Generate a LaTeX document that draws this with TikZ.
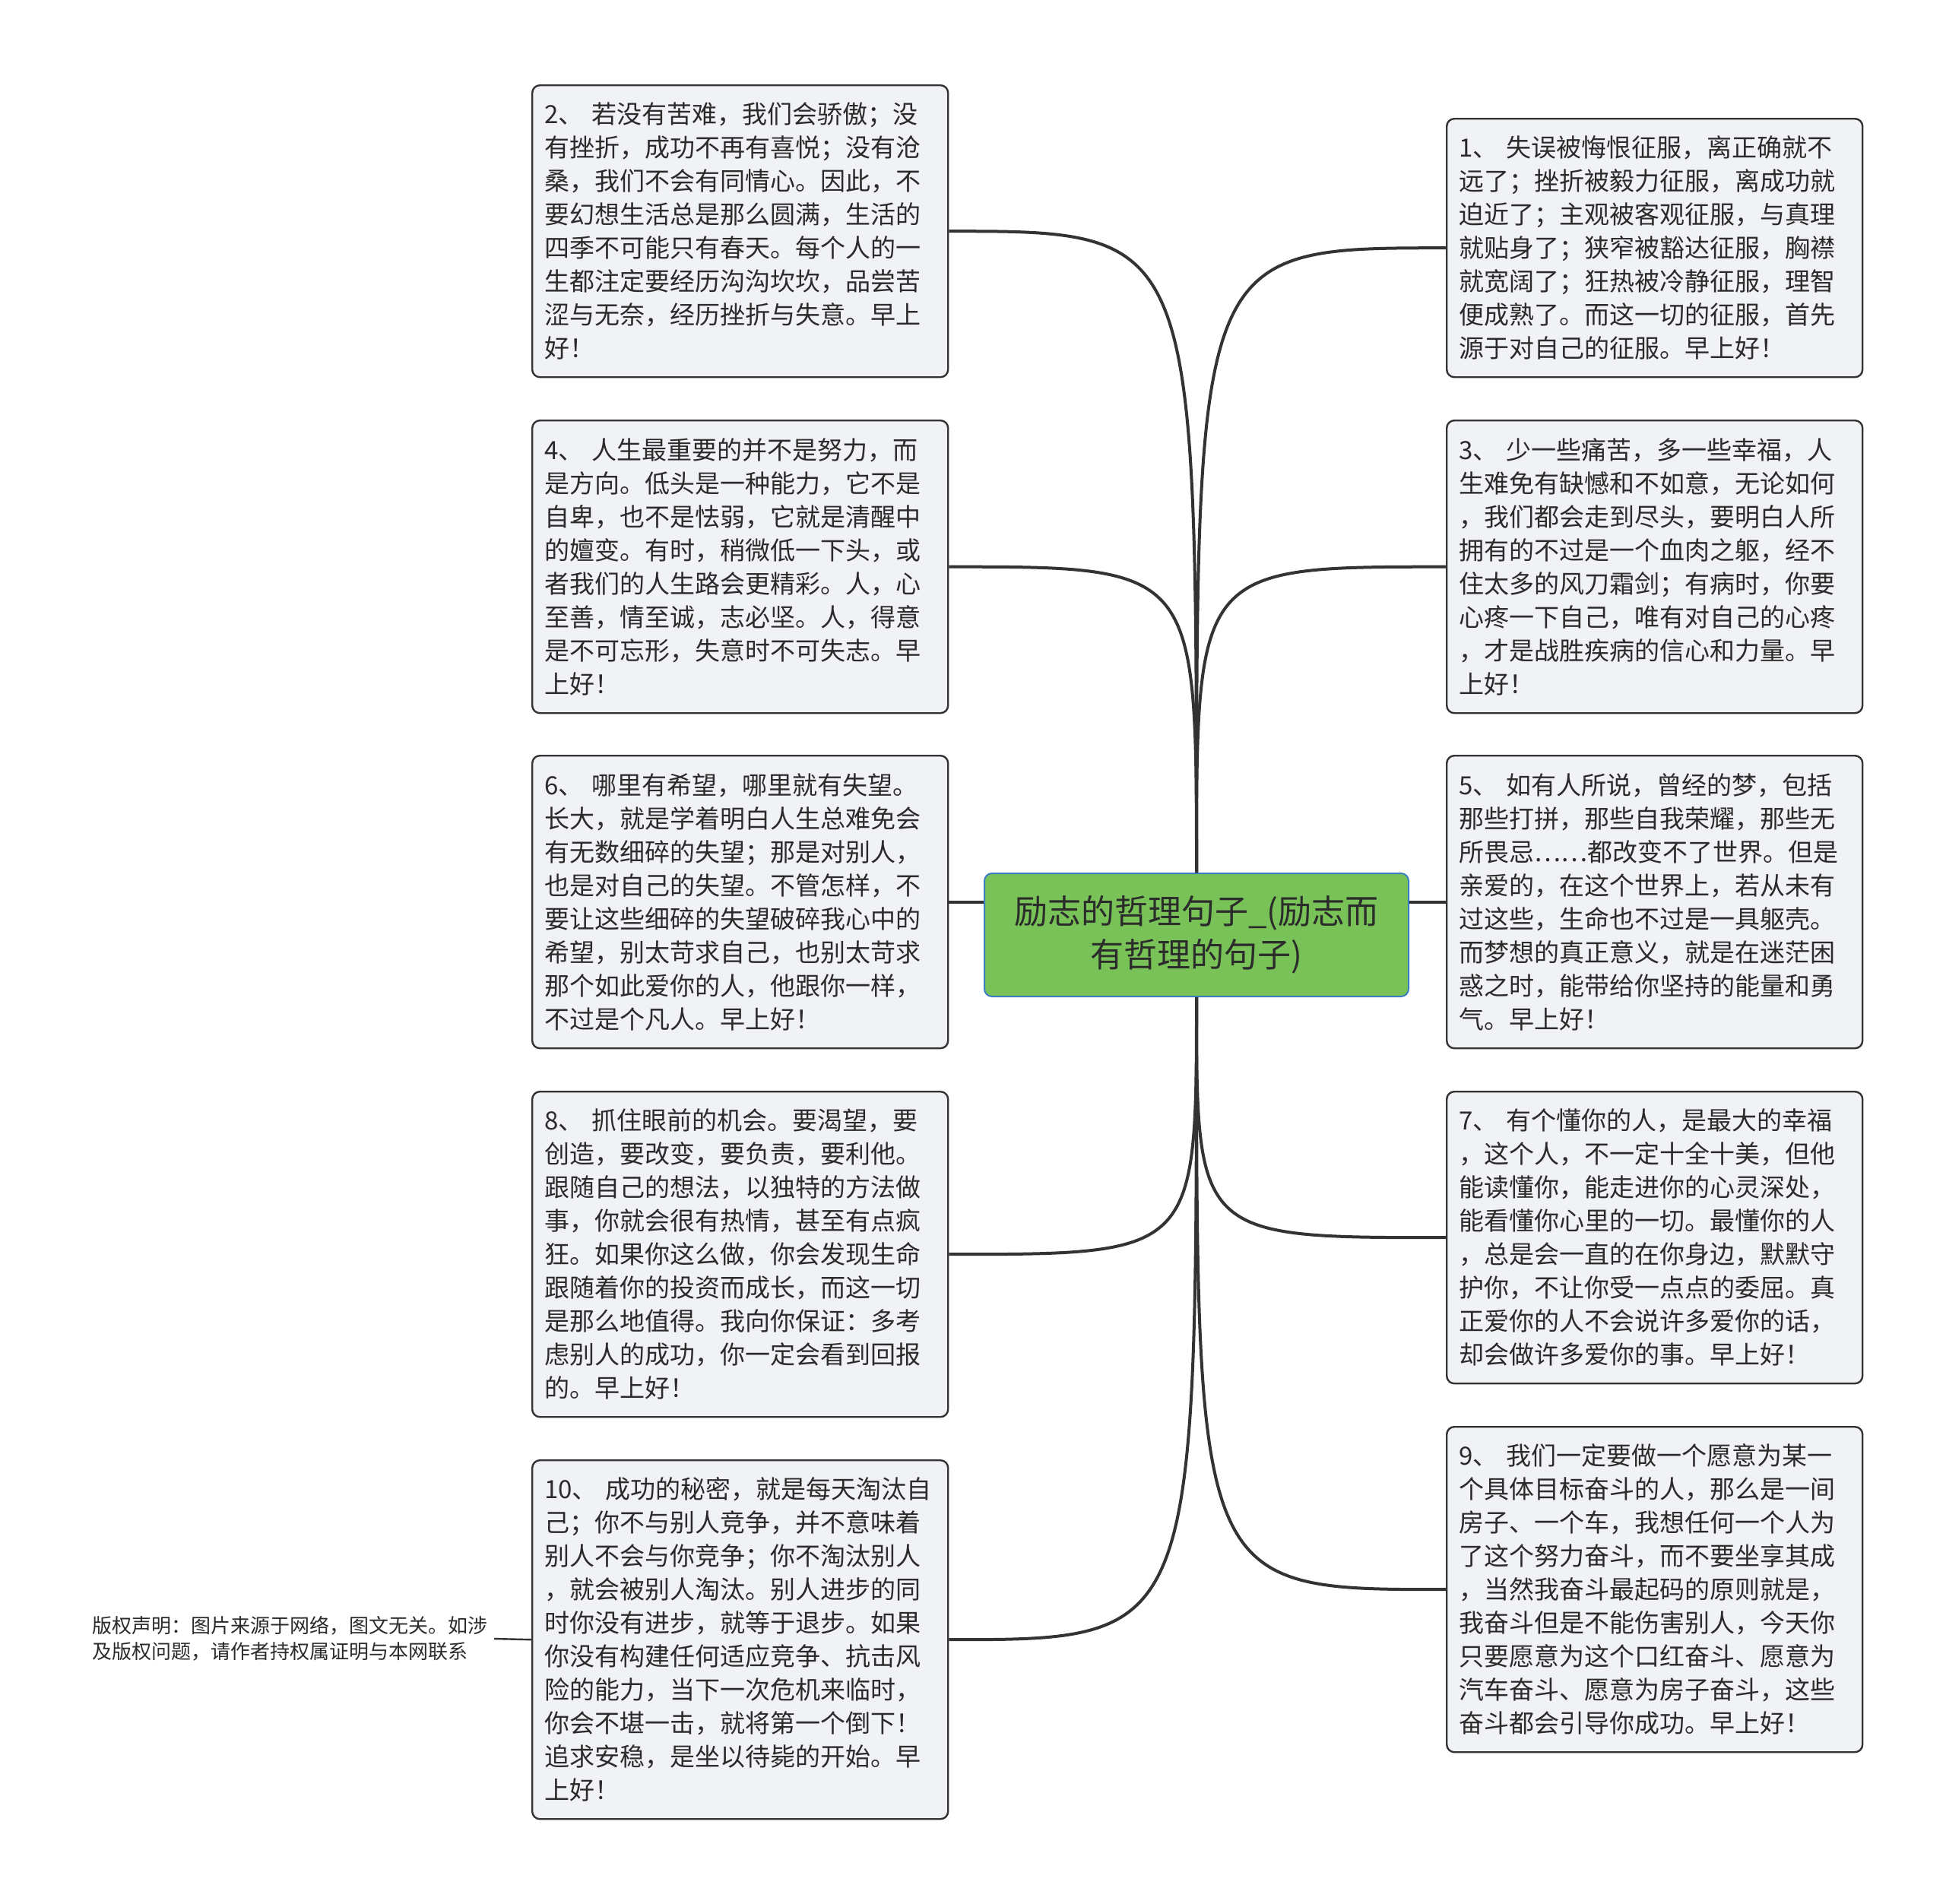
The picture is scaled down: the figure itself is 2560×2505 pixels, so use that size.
\documentclass[tikz,border=0pt]{standalone}
\usepackage{fontspec}
\setmainfont{Noto Sans CJK SC}
\definecolor{linec}{HTML}{333333}
\definecolor{boxfill}{HTML}{F0F2F5}
\definecolor{textc}{HTML}{2B2B2B}
\definecolor{rootfill}{HTML}{78C257}
\definecolor{rootdraw}{HTML}{3C7CC4}
\tikzset{
  leaf/.style={draw=linec, line width=0.6pt, fill=boxfill, rounded corners=2.5pt,
    anchor=north west, text width=128.75pt, inner xsep=4pt, inner ysep=0pt,
    align=left, font=\fontsize{8.25}{11}\selectfont, text=textc},
  root/.style={draw=rootdraw, line width=0.5pt, fill=rootfill, rounded corners=2.5pt,
    minimum width=139.5pt, minimum height=40.5pt, align=center,
    font=\fontsize{11}{14.25}\selectfont, text=textc},
  conn/.style={draw=linec, line width=1pt},
  note/.style={font=\fontsize{6.5}{8.5}\selectfont, text=textc, align=left, inner xsep=2pt}
}
\begin{document}
\begin{tikzpicture}[x=0.25pt,y=-0.25pt]
\useasboundingbox[fill=white] (0,0) rectangle (2560,2505);

\node[root] (c) at (1574,1230) {励志的哲理句子\_(励志而\\有哲理的句子)};

\node[leaf, minimum height=96pt] (b2) at (699,111) {2、 若没有苦难，我们会骄傲；没\\有挫折，成功不再有喜悦；没有沧\\桑，我们不会有同情心。因此，不\\要幻想生活总是那么圆满，生活的\\四季不可能只有春天。每个人的一\\生都注定要经历沟沟坎坎，品尝苦\\涩与无奈，经历挫折与失意。早上\\好！};

\node[leaf, minimum height=85pt] (b1) at (1902,155) {1、 失误被悔恨征服，离正确就不\\远了；挫折被毅力征服，离成功就\\迫近了；主观被客观征服，与真理\\就贴身了；狭窄被豁达征服，胸襟\\就宽阔了；狂热被冷静征服，理智\\便成熟了。而这一切的征服，首先\\源于对自己的征服。早上好！};

\node[leaf, minimum height=96.25pt] (b4) at (699,552) {4、 人生最重要的并不是努力，而\\是方向。低头是一种能力，它不是\\自卑，也不是怯弱，它就是清醒中\\的嬗变。有时，稍微低一下头，或\\者我们的人生路会更精彩。人，心\\至善，情至诚，志必坚。人，得意\\是不可忘形，失意时不可失志。早\\上好！};

\node[leaf, minimum height=96.25pt] (b3) at (1902,552) {3、 少一些痛苦，多一些幸福，人\\生难免有缺憾和不如意，无论如何\\，我们都会走到尽头，要明白人所\\拥有的不过是一个血肉之躯，经不\\住太多的风刀霜剑；有病时，你要\\心疼一下自己，唯有对自己的心疼\\，才是战胜疾病的信心和力量。早\\上好！};

\node[leaf, minimum height=96.25pt] (b6) at (699,993) {6、 哪里有希望，哪里就有失望。\\长大，就是学着明白人生总难免会\\有无数细碎的失望；那是对别人，\\也是对自己的失望。不管怎样，不\\要让这些细碎的失望破碎我心中的\\希望，别太苛求自己，也别太苛求\\那个如此爱你的人，他跟你一样，\\不过是个凡人。早上好！};

\node[leaf, minimum height=96.25pt] (b5) at (1902,993) {5、 如有人所说，曾经的梦，包括\\那些打拼，那些自我荣耀，那些无\\所畏忌……都改变不了世界。但是\\亲爱的，在这个世界上，若从未有\\过这些，生命也不过是一具躯壳。\\而梦想的真正意义，就是在迷茫困\\惑之时，能带给你坚持的能量和勇\\气。早上好！};

\node[leaf, minimum height=107pt] (b8) at (699,1435) {8、 抓住眼前的机会。要渴望，要\\创造，要改变，要负责，要利他。\\跟随自己的想法，以独特的方法做\\事，你就会很有热情，甚至有点疯\\狂。如果你这么做，你会发现生命\\跟随着你的投资而成长，而这一切\\是那么地值得。我向你保证：多考\\虑别人的成功，你一定会看到回报\\的。早上好！};

\node[leaf, minimum height=96pt] (b7) at (1902,1435) {7、 有个懂你的人，是最大的幸福\\，这个人，不一定十全十美，但他\\能读懂你，能走进你的心灵深处，\\能看懂你心里的一切。最懂你的人\\，总是会一直的在你身边，默默守\\护你，不让你受一点点的委屈。真\\正爱你的人不会说许多爱你的话，\\却会做许多爱你的事。早上好！};

\node[leaf, minimum height=118pt] (b10) at (699,1920) {10、 成功的秘密，就是每天淘汰自\\己；你不与别人竞争，并不意味着\\别人不会与你竞争；你不淘汰别人\\，就会被别人淘汰。别人进步的同\\时你没有进步，就等于退步。如果\\你没有构建任何适应竞争、抗击风\\险的能力，当下一次危机来临时，\\你会不堪一击，就将第一个倒下！\\追求安稳，是坐以待毙的开始。早\\上好！};

\node[leaf, minimum height=107pt] (b9) at (1902,1876) {9、 我们一定要做一个愿意为某一\\个具体目标奋斗的人，那么是一间\\房子、一个车，我想任何一个人为\\了这个努力奋斗，而不要坐享其成\\，当然我奋斗最起码的原则就是，\\我奋斗但是不能伤害别人，今天你\\只要愿意为这个口红奋斗、愿意为\\汽车奋斗、愿意为房子奋斗，这些\\奋斗都会引导你成功。早上好！};

\node[note, anchor=east] (cr) at (650,2156) {版权声明：图片来源于网络，图文无关。如涉\\及版权问题，请作者持权属证明与本网联系};

% connectors
\draw[conn] (b2.east) .. controls (c.north |- b2.east) .. (c.north);
\draw[conn] (b4.east) .. controls (c.north |- b4.east) .. (c.north);
\draw[conn] (b1.west) .. controls (c.north |- b1.west) .. (c.north);
\draw[conn] (b3.west) .. controls (c.north |- b3.west) .. (c.north);
\draw[conn] (b6.east) -- (b6.east -| c.west);
\draw[conn] (b5.west) -- (b5.west -| c.east);
\draw[conn] (b8.east) .. controls (c.south |- b8.east) .. (c.south);
\draw[conn] (b10.east) .. controls (c.south |- b10.east) .. (c.south);
\draw[conn] (b7.west) .. controls (c.south |- b7.west) .. (c.south);
\draw[conn] (b9.west) .. controls (c.south |- b9.west) .. (c.south);
\draw[conn, line width=0.6pt] (cr.east) -- (b10.west);
\end{tikzpicture}
\end{document}
